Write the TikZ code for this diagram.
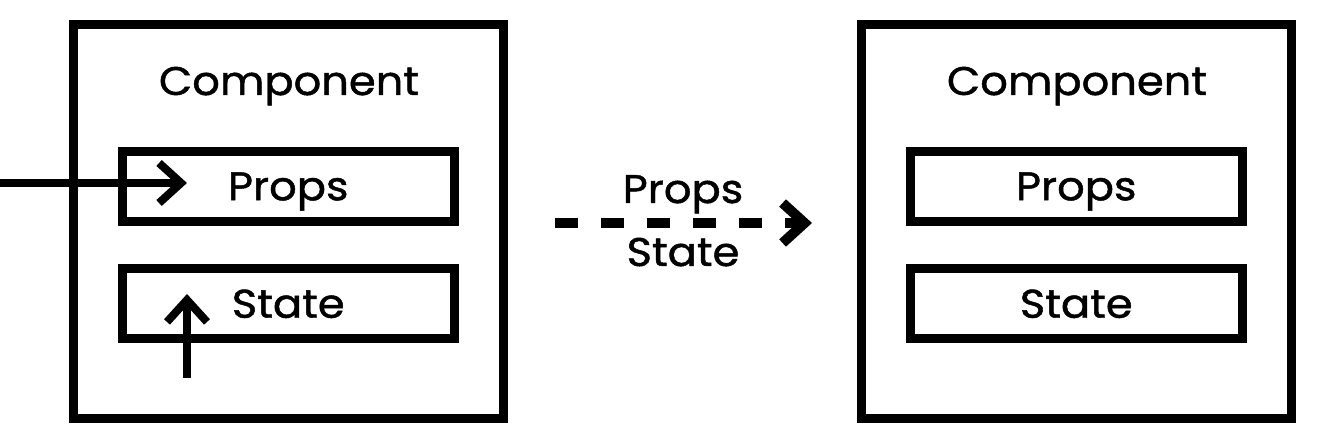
\documentclass[tikz,border=0pt]{standalone}
\usepackage{fontspec}
\setmainfont{Poppins}[FakeStretch=1.08, FakeBold=1.2]
\usetikzlibrary{arrows.meta}
\begin{document}
\begin{tikzpicture}[x=1pt,y=-1pt,
  outerbox/.style={draw, line width=9pt, minimum width=430pt, minimum height=393.5pt, inner sep=0pt},
  partbox/.style={draw, line width=9pt, minimum width=331.5pt, minimum height=70pt, inner sep=0pt,
     font=\fontsize{40}{44}\selectfont, text height=28pt, text depth=0pt},
  lbl/.style={font=\fontsize{40}{44}\selectfont, anchor=base, inner sep=0pt},
  flow/.style={line width=8pt, -{Straight Barb[length=22pt,width=40pt,line cap=butt]}},
]
\useasboundingbox (0,0) rectangle (1318,438);
% left component
\node[outerbox] (lc) at (288,221.25) {};
\node[lbl] (lt) at (289,95) {Component};
\node[partbox] (lp) at (288.25,186.25) {Props};
\node[partbox] (ls) at (288.25,303.75) {State};
% right component
\node[outerbox] (rc) at (1076,221.25) {};
\node[lbl] (rt) at (1077,95) {Component};
\node[partbox] (rp) at (1076.25,186.25) {Props};
\node[partbox] (rs) at (1076.25,303.75) {State};
% arrows into left component
\coordinate (inL) at (0,183);
\coordinate (inP) at (187,183);
\draw[flow] (inL) -- (inP);
\coordinate (inB) at (187,378);
\coordinate (inS) at (187,294);
\draw[flow] (inB) -- (inS);
% transfer arrow
\coordinate (ta) at (555,223);
\coordinate (tb) at (812,223);
\draw[flow, line width=10pt, dash pattern=on 23pt off 23pt] (ta) -- (tb);
\node[lbl] (tp) at (683,203) {Props};
\node[lbl] (ts) at (683,266) {State};
\end{tikzpicture}
\end{document}
